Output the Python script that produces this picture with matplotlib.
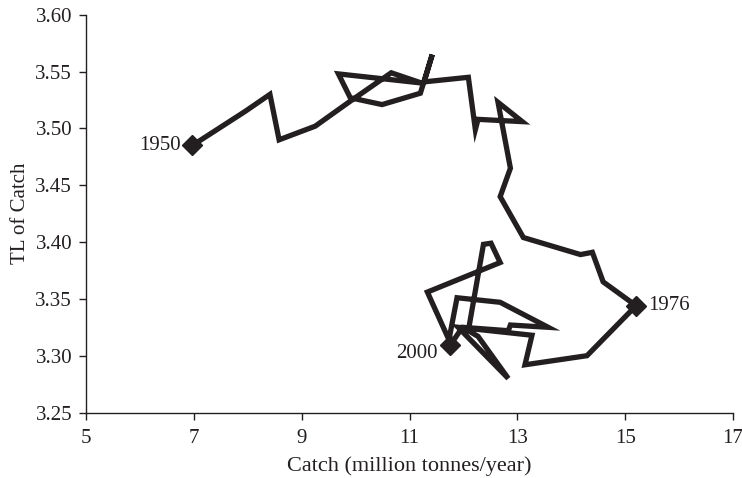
import matplotlib
matplotlib.use("Agg")
import matplotlib.pyplot as plt

# catch (million tonnes/year) and mean trophic level, traced along the path
catch = [6.97, 7.95, 8.41, 8.58, 9.25, 9.90, 10.66, 11.22, 9.68, 9.90,
         10.49, 11.20, 11.42, 11.27, 12.09, 12.22, 12.27, 13.09, 12.64, 12.87,
         12.68, 13.11, 14.17, 14.39, 14.59, 15.20, 14.29, 13.14, 13.27, 11.90,
         12.83, 12.27, 12.09, 12.37, 12.51, 12.68, 11.33, 11.73, 11.88, 12.68,
         13.57, 12.87, 12.83, 11.98, 11.75]
tl = [3.485, 3.515, 3.530, 3.490, 3.502, 3.524, 3.549, 3.540, 3.548, 3.527,
      3.521, 3.531, 3.565, 3.541, 3.545, 3.499, 3.508, 3.506, 3.523, 3.465,
      3.440, 3.404, 3.389, 3.391, 3.365, 3.344, 3.300, 3.292, 3.318, 3.325,
      3.280, 3.317, 3.322, 3.398, 3.399, 3.382, 3.356, 3.314, 3.351, 3.347,
      3.325, 3.327, 3.322, 3.325, 3.309]

# labelled years and the index of their point in the path
year_labels = ["1950", "1976", "2000"]
year_idx = [0, 25, len(catch) - 1]

xticks = [5, 7, 9, 11, 13, 15, 17]
yticks = [3.25, 3.30, 3.35, 3.40, 3.45, 3.50, 3.55, 3.60]

ink = "#231f20"
fs = 15
plt.rcParams["font.family"] = ["Liberation Serif", "DejaVu Serif"]

fig = plt.figure(figsize=(7.42, 4.78), dpi=100)
ax = fig.add_axes([0.116, 0.137, 0.872, 0.832])

ax.plot(catch, tl, color=ink, lw=3.8, solid_joinstyle="miter", zorder=2)
ax.plot([catch[i] for i in year_idx], [tl[i] for i in year_idx], "D",
        color=ink, ms=10, zorder=3)

# year labels
offsets = [(-8, 0, "right", "center"), (9, 0, "left", "center"), (-9, -6, "right", "center")]
for lab, i, (dx, dy, ha, va) in zip(year_labels, year_idx, offsets):
    ax.annotate(lab, (catch[i], tl[i]), xytext=(dx, dy), textcoords="offset points",
                ha=ha, va=va, fontsize=fs, color=ink)

ax.set_xlim(5, 17)
ax.set_ylim(3.25, 3.60)
ax.set_xticks(xticks)
ax.set_yticks(yticks)
ax.set_yticklabels(["%.2f" % v for v in yticks])
ax.set_xlabel("Catch (million tonnes/year)", fontsize=16, color=ink, labelpad=6)
ax.set_ylabel("TL of Catch", fontsize=fs, color=ink, labelpad=4)

for s in ["top", "right"]:
    ax.spines[s].set_visible(False)
for s in ["left", "bottom"]:
    ax.spines[s].set_color(ink)
    ax.spines[s].set_linewidth(1.0)
ax.tick_params(direction="out", length=5, width=1.0, colors=ink, labelsize=fs)
ax.tick_params(axis="x", pad=7)
ax.tick_params(axis="y", pad=5)

fig.savefig("out.png", dpi=100)
